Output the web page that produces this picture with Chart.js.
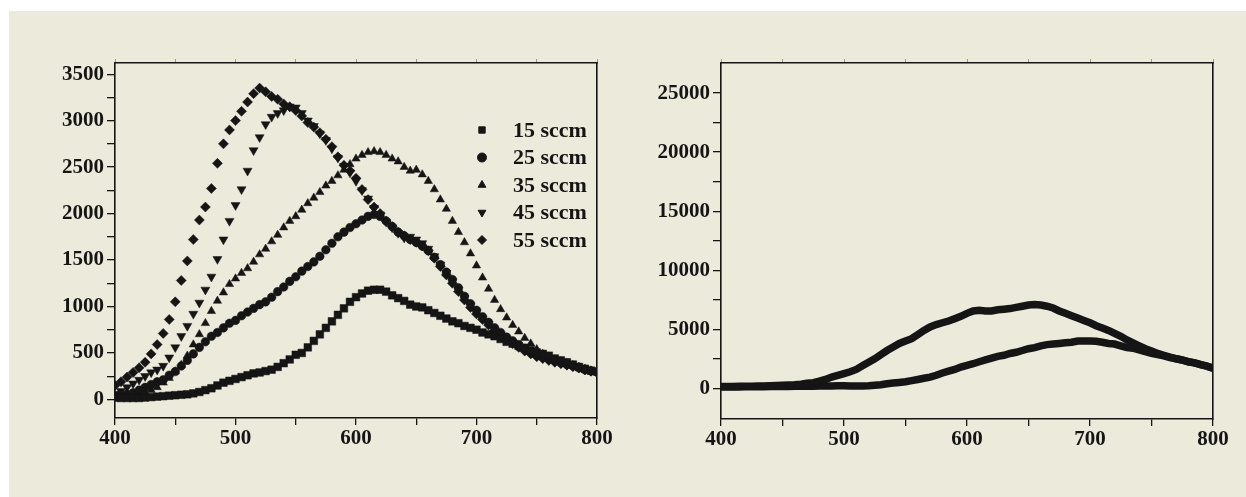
<!DOCTYPE html>
<html>
<head>
<meta charset="utf-8">
<script src="https://cdn.jsdelivr.net/npm/chart.js@4.4.0/dist/chart.umd.min.js"></script>
<style>
html,body{margin:0;padding:0;background:#ffffff;width:1246px;height:497px;overflow:hidden;}
#panel{position:absolute;left:9px;top:11px;width:1237px;height:486px;background:#EBEADB;}
#c1{position:absolute;left:0;top:0;}
#c2{position:absolute;left:620px;top:0;}
</style>
</head>
<body>
<div id="panel"></div>
<canvas id="c1" width="620" height="497"></canvas>
<canvas id="c2" width="626" height="497"></canvas>
<script>
// ---------- data ----------
const wavelength = [400,405,410,415,420,425,430,435,440,445,450,455,460,465,470,475,480,485,490,495,500,505,510,515,520,525,530,535,540,545,550,555,560,565,570,575,580,585,590,595,600,605,610,615,620,625,630,635,640,645,650,655,660,665,670,675,680,685,690,695,700,705,710,715,720,725,730,735,740,745,750,755,760,765,770,775,780,785,790,795,800];

const seriesNames = ['15 sccm','25 sccm','35 sccm','45 sccm','55 sccm'];

const s15 = [20,15,15,15,15,20,25,30,35,40,45,
  50,55,65,80,100,120,150,180,200,220,
  240,260,280,290,305,320,350,390,430,480,
  500,560,630,700,770,840,910,980,1050,1100,
  1140,1170,1180,1180,1160,1120,1090,1060,1020,1000,
  990,960,930,900,870,840,820,790,770,750,
  720,700,680,650,620,600,575,555,530,505,
  490,470,440,420,400,375,350,330,310,300];

const s25 = [30,40,55,70,100,130,160,190,210,260,300,
  360,420,490,560,620,680,720,770,820,850,
  900,940,980,1020,1050,1100,1160,1210,1270,1320,
  1380,1430,1480,1540,1610,1680,1750,1800,1850,1890,
  1930,1970,1990,1970,1920,1860,1800,1760,1720,1690,
  1650,1600,1530,1450,1370,1290,1200,1110,1030,960,
  890,830,770,720,670,630,590,550,510,480,
  455,435,415,395,375,360,340,320,305,295];

const s35 = [20,25,30,40,55,75,100,130,180,230,300,
  370,470,590,700,820,950,1060,1150,1240,1300,
  1360,1410,1480,1560,1620,1700,1770,1850,1920,1970,
  2040,2110,2170,2230,2300,2350,2410,2470,2530,2590,
  2630,2660,2670,2660,2630,2590,2560,2500,2460,2470,
  2420,2350,2260,2150,2050,1920,1800,1690,1570,1440,
  1310,1190,1070,970,880,800,730,660,600,540,
  490,460,430,410,390,370,350,330,310,295];

const s45 = [60,90,130,170,210,250,290,320,360,450,560,
  680,790,920,1040,1180,1320,1510,1720,1920,2090,
  2260,2460,2680,2820,2960,3040,3080,3110,3150,3140,
  3080,3000,2940,2860,2790,2700,2600,2510,2440,2350,
  2250,2160,2060,1990,1910,1850,1790,1740,1750,1720,
  1680,1620,1540,1450,1360,1270,1180,1090,1010,940,
  870,810,750,700,650,610,570,530,500,470,
  445,425,405,390,370,355,340,320,305,290];

const s55 = [150,190,240,290,340,400,490,590,710,860,1050,
  1280,1490,1720,1930,2070,2270,2540,2750,2900,3000,
  3100,3200,3290,3350,3310,3260,3230,3180,3150,3110,
  3050,2980,2930,2870,2800,2720,2610,2520,2460,2380,
  2260,2150,2070,2000,1920,1860,1800,1760,1720,1690,
  1650,1600,1520,1430,1340,1250,1160,1070,990,920,
  860,800,740,690,640,600,560,520,490,460,
  440,420,400,385,370,355,340,320,305,290];

const rightA = [150,150,160,170,170,180,190,200,210,230,250,
  280,300,350,420,480,600,750,950,1100,1250,
  1400,1600,1900,2200,2500,2850,3200,3500,3800,4000,
  4200,4550,4900,5200,5400,5550,5700,5900,6100,6350,
  6550,6600,6550,6550,6650,6700,6750,6850,6950,7050,
  7100,7050,6950,6800,6550,6350,6150,5950,5750,5550,
  5300,5100,4900,4650,4400,4100,3850,3600,3350,3150,
  2950,2800,2650,2500,2400,2250,2150,2000,1880,1700];

const rightB = [100,110,120,120,130,130,140,140,150,150,160,
  160,170,170,180,180,190,200,200,210,210,
  200,200,200,210,250,300,380,450,500,550,
  650,750,850,950,1100,1300,1450,1600,1800,1950,
  2080,2250,2400,2550,2700,2800,2950,3050,3200,3350,
  3450,3600,3700,3750,3800,3850,3900,4000,4000,4000,
  3980,3900,3800,3750,3600,3450,3400,3250,3100,2950,
  2850,2750,2600,2500,2380,2250,2150,2000,1880,1700];

// tick values / labels
const xTickValues = [400,450,500,550,600,650,700,750,800];
const xTickLabels = [400,500,600,700,800];
const leftYTickValues = [0,250,500,750,1000,1250,1500,1750,2000,2250,2500,2750,3000,3250,3500];
const leftYTickLabels = [0,500,1000,1500,2000,2500,3000,3500];
const rightYTickValues = [0,2500,5000,7500,10000,12500,15000,17500,20000,22500,25000];
const rightYTickLabels = [0,5000,10000,15000,20000,25000];

// ---------- helpers ----------
const pts = ys => wavelength.map((x, i) => ({x: x, y: ys[i]}));
const INK = '#151515';
const FONT = {family: '"Liberation Serif", "Times New Roman", serif', weight: 'bold', size: 21};

const markerStyles = [
  {pointStyle: 'rect', radius: 5.4, rotation: 0},
  {pointStyle: 'circle', radius: 4.3, rotation: 0},
  {pointStyle: 'triangle', radius: 4.8, rotation: 0},
  {pointStyle: 'triangle', radius: 5.2, rotation: 180},
  {pointStyle: 'rectRot', radius: 5, rotation: 0}
];

function xScales() {
  return {
    x: {
      type: 'linear', position: 'bottom', min: 400, max: 800,
      afterBuildTicks: s => { s.ticks = xTickValues.map(v => ({value: v})); },
      afterFit: s => { s.height = 40; },
      ticks: {
        autoSkip: false, maxRotation: 0, padding: 1, color: INK, font: FONT,
        callback: v => xTickLabels.includes(v) ? String(v) : ''
      },
      grid: {drawOnChartArea: false, tickLength: 7, color: INK, lineWidth: 1.3},
      border: {display: true, color: INK, width: 1.6}
    },
    xTop: {
      type: 'linear', position: 'top', min: 400, max: 800,
      afterBuildTicks: s => { s.ticks = xTickValues.map(v => ({value: v})); },
      afterFit: s => { s.height = 4; },
      ticks: {display: false},
      grid: {drawOnChartArea: false, tickLength: 4, color: '#9a9a90', lineWidth: 1},
      border: {display: true, color: INK, width: 1.6}
    }
  };
}

function yScales(min, max, tickValues, tickLabels, axisWidth) {
  return {
    y: {
      type: 'linear', position: 'left', min: min, max: max,
      afterBuildTicks: s => { s.ticks = tickValues.map(v => ({value: v})); },
      afterFit: s => { s.width = axisWidth; },
      ticks: {
        autoSkip: false, padding: 3, color: INK, font: FONT,
        callback: v => tickLabels.includes(v) ? String(v) : ''
      },
      grid: {drawOnChartArea: false, tickLength: 8, color: INK, lineWidth: 1.3},
      border: {display: true, color: INK, width: 1.6}
    },
    yRight: {
      type: 'linear', position: 'right', min: min, max: max,
      afterFit: s => { s.width = 0; },
      ticks: {display: false},
      grid: {display: false, drawTicks: false},
      border: {display: true, color: INK, width: 1.6}
    }
  };
}

// legend drawn inside the plot area
const insideLegend = {
  id: 'insideLegend',
  afterDatasetsDraw(chart, args, opts) {
    const {ctx, chartArea} = chart;
    ctx.save();
    chart.data.datasets.forEach((ds, i) => {
      const y = chartArea.top + opts.top + i * opts.rowGap;
      const mx = chartArea.right - opts.markerOffset;
      ctx.fillStyle = INK;
      ctx.strokeStyle = INK;
      ctx.lineWidth = 1;
      Chart.helpers.drawPoint(ctx, {
        pointStyle: ds.pointStyle, rotation: ds.pointRotation || 0,
        radius: opts.markerRadius, borderWidth: 1
      }, mx, y);
      ctx.font = 'bold 22px "Liberation Serif", "Times New Roman", serif';
      ctx.textBaseline = 'middle';
      ctx.textAlign = 'left';
      ctx.fillStyle = INK;
      ctx.fillText(ds.label, chartArea.right - opts.textOffset, y + 1);
    });
    ctx.restore();
  }
};

// ---------- left chart ----------
const leftSeries = [s15, s25, s35, s45, s55];
new Chart(document.getElementById('c1'), {
  type: 'scatter',
  data: {
    datasets: leftSeries.map((ys, i) => ({
      label: seriesNames[i],
      data: pts(ys),
      showLine: false,
      pointStyle: markerStyles[i].pointStyle,
      pointRotation: markerStyles[i].rotation,
      pointRadius: markerStyles[i].radius,
      pointBackgroundColor: INK,
      pointBorderColor: INK,
      pointBorderWidth: 0.5,
      borderColor: INK,
      backgroundColor: INK
    }))
  },
  options: {
    responsive: false, animation: false,
    layout: {padding: {left: 0, top: 59, right: 23, bottom: 39}},
    scales: Object.assign({}, xScales(), yScales(-200, 3620, leftYTickValues, leftYTickLabels, 115)),
    plugins: {
      legend: {display: false}, tooltip: {enabled: false},
      insideLegend: {top: 67, rowGap: 27.5, markerOffset: 115, textOffset: 84, markerRadius: 4.5}
    }
  },
  plugins: [insideLegend]
});

// ---------- right chart ----------
const rightSeries = [rightA, rightB];
new Chart(document.getElementById('c2'), {
  type: 'scatter',
  data: {
    datasets: rightSeries.map(ys => ({
      data: pts(ys),
      showLine: true,
      borderColor: INK,
      backgroundColor: INK,
      borderWidth: 7.5,
      pointRadius: 0,
      tension: 0
    }))
  },
  options: {
    responsive: false, animation: false,
    layout: {padding: {left: 0, top: 59, right: 33, bottom: 38}},
    scales: Object.assign({}, xScales(), yScales(-2600, 27550, rightYTickValues, rightYTickLabels, 101)),
    plugins: {legend: {display: false}, tooltip: {enabled: false}}
  }
});
</script>
</body>
</html>
